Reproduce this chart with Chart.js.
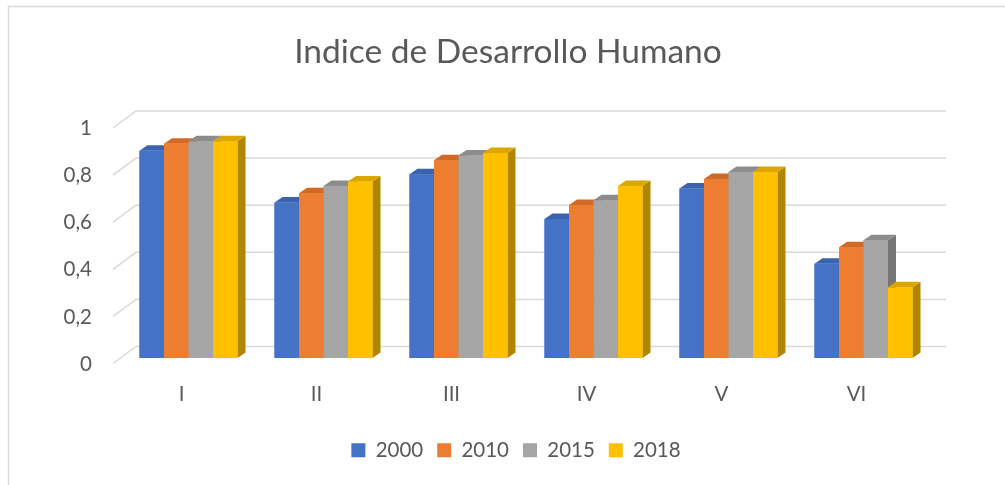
<!DOCTYPE html>
<html>
<head>
<meta charset="utf-8">
<script src="https://cdn.jsdelivr.net/npm/chart.js@4.4.0/dist/chart.umd.min.js"></script>
<style>
  html, body { margin: 0; padding: 0; background: #fff; }
  #wrap { width: 1005px; height: 485px; }
</style>
</head>
<body>
<div id="wrap"><canvas id="idhChart" width="1005" height="485"></canvas></div>
<script>
const categories = ["I", "II", "III", "IV", "V", "VI"];
const seriesLabels = ["2000", "2010", "2015", "2018"];
const idh2000 = [0.88, 0.66, 0.78, 0.59, 0.72, 0.40];
const idh2010 = [0.91, 0.70, 0.84, 0.65, 0.76, 0.47];
const idh2015 = [0.92, 0.73, 0.86, 0.67, 0.79, 0.50];
const idh2018 = [0.92, 0.75, 0.87, 0.73, 0.79, 0.30];
const yTickLabels = ["0", "0,2", "0,4", "0,6", "0,8", "1"];

const frontColors = ["#4472C4", "#ED7D31", "#A5A5A5", "#FFC000"];
const topColors = ["#3A63AE", "#CF6B26", "#8C8C8C", "#DCA600"];
const sideColors = ["#2F528F", "#A85B22", "#767676", "#B08600"];
const textColor = "#595959";
const gridColor = "#d9d9d9";

// 3d offsets (px)
const depthX = 8;
const depthY = 5.5;

const bars3d = {
  id: "bars3d",
  afterLayout(chart) {
    // legend sits a bit right of the title in the original
    chart.legend.left += 8;
    chart.legend.right += 8;
  },
  beforeDraw(chart) {
    const ctx = chart.ctx;
    ctx.save();
    ctx.strokeStyle = gridColor;
    ctx.lineWidth = 1.5;
    ctx.beginPath();
    ctx.moveTo(8.5, 485);
    ctx.lineTo(8.5, 6.5);
    ctx.lineTo(1005, 6.5);
    ctx.stroke();
    ctx.restore();
  },
  beforeDatasetsDraw(chart) {
    const { ctx, chartArea, scales } = chart;
    ctx.save();
    ctx.strokeStyle = gridColor;
    ctx.lineWidth = 1.5;
    scales.y.ticks.forEach((tick) => {
      const py = scales.y.getPixelForValue(tick.value);
      ctx.beginPath();
      ctx.moveTo(chartArea.left - 8, py + 5.5);
      ctx.lineTo(chartArea.left + 15, py - 11.5);
      ctx.lineTo(chartArea.right + 15, py - 11.5);
      ctx.stroke();
    });
    ctx.restore();
  },
  afterDatasetsDraw(chart) {
    const ctx = chart.ctx;
    const metas = chart.data.datasets.map((d, i) => chart.getDatasetMeta(i));
    ctx.save();
    categories.forEach((cat, j) => {
      metas.forEach((meta, i) => {
        const bar = meta.data[j];
        const l = bar.x - bar.width / 2;
        const r = bar.x + bar.width / 2;
        const t = bar.y;
        const b = bar.base;

        ctx.fillStyle = sideColors[i];
        ctx.beginPath();
        ctx.moveTo(r, t);
        ctx.lineTo(r + depthX, t - depthY);
        ctx.lineTo(r + depthX, b - depthY);
        ctx.lineTo(r, b);
        ctx.closePath();
        ctx.fill();

        ctx.fillStyle = topColors[i];
        ctx.beginPath();
        ctx.moveTo(l, t);
        ctx.lineTo(l + depthX, t - depthY);
        ctx.lineTo(r + depthX, t - depthY);
        ctx.lineTo(r, t);
        ctx.closePath();
        ctx.fill();

        ctx.fillStyle = frontColors[i];
        ctx.fillRect(l, t, r - l, b - t);
      });
    });
    ctx.restore();
  },
};

const seriesValues = [idh2000, idh2010, idh2015, idh2018];

new Chart(document.getElementById("idhChart"), {
  type: "bar",
  data: {
    labels: categories,
    datasets: seriesValues.map((values, i) => ({
      label: seriesLabels[i],
      data: values,
      backgroundColor: frontColors[i],
      borderWidth: 0,
      categoryPercentage: 0.726,
      barPercentage: 1.0,
    })),
  },
  options: {
    responsive: false,
    animation: false,
    devicePixelRatio: 1,
    layout: { padding: { left: 20, right: 9, top: 0, bottom: 14.5 } },
    plugins: {
      title: {
        display: true,
        text: "Indice de Desarrollo Humano",
        color: textColor,
        font: { family: "Lato", size: 33.5, weight: "normal", lineHeight: 1.2 },
        padding: { top: 32, bottom: 50.3 },
      },
      legend: {
        position: "bottom",
        labels: {
          color: textColor,
          font: { family: "Lato", size: 20.5 },
          boxWidth: 14,
          boxHeight: 14,
          padding: 14,
        },
      },
      tooltip: { enabled: false },
    },
    scales: {
      x: {
        grid: { display: false, drawTicks: false },
        border: { display: false },
        ticks: {
          color: textColor,
          font: { family: "Lato", size: 20.5 },
          padding: 24,
          labelOffset: -7,
        },
        afterFit(scale) {
          scale.height = 68;
        },
      },
      y: {
        min: 0,
        max: 1,
        grid: { display: false, drawTicks: false },
        border: { display: false },
        ticks: {
          stepSize: 0.2,
          color: textColor,
          font: { family: "Lato", size: 20.5 },
          padding: 29,
          labelOffset: 6,
          callback: (value, index) => yTickLabels[index],
        },
        afterFit(scale) {
          scale.width = 101;
        },
      },
      yRight: {
        position: "right",
        grid: { display: false, drawTicks: false },
        border: { display: false },
        ticks: { display: false },
        afterFit(scale) {
          scale.width = 65;
        },
      },
    },
  },
  plugins: [bars3d],
});
</script>
</body>
</html>
